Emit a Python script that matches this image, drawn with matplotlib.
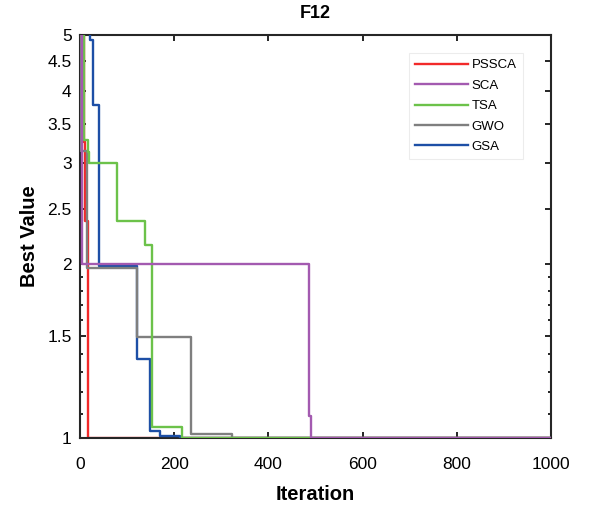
import numpy as np
import matplotlib.pyplot as plt
from matplotlib.ticker import FixedLocator, FixedFormatter, NullFormatter

plt.rcParams['font.family'] = ['Liberation Sans', 'DejaVu Sans']

# step curves: iteration where each new best value starts, and that value
pssca_it = [0, 8, 11, 16]
pssca_val = [6.0, 3.26, 2.38, 1.0]

sca_it = [0, 4, 487, 490]
sca_val = [6.0, 2.0, 1.09, 1.0]

tsa_it = [0, 9, 17, 20, 78, 138, 153, 217]
tsa_val = [6.0, 3.29, 3.13, 3.0, 2.38, 2.16, 1.045, 1.0]

gwo_it = [0, 3, 14, 121, 236, 323]
gwo_val = [6.0, 3.15, 1.97, 1.497, 1.016, 1.0]

gsa_it = [0, 22, 27, 40, 121, 149, 170, 212]
gsa_val = [6.0, 4.9, 3.78, 1.99, 1.37, 1.028, 1.008, 1.0]

max_iter = 1000
yticks = [1, 1.5, 2, 2.5, 3, 3.5, 4, 4.5, 5]
ytick_labels = ['1', '1.5', '2', '2.5', '3', '3.5', '4', '4.5', '5']
xticks = [0, 200, 400, 600, 800, 1000]

series = [
    ('PSSCA', pssca_it, pssca_val, '#f22a2a', 2),
    ('SCA', sca_it, sca_val, '#a35ab0', 6),
    ('TSA', tsa_it, tsa_val, '#6cc24a', 5),
    ('GWO', gwo_it, gwo_val, '#7f7f7f', 4),
    ('GSA', gsa_it, gsa_val, '#1d4fa6', 3),
]

fig = plt.figure(figsize=(5.9, 5.05), dpi=100)
ax = fig.add_axes([0.1356, 0.1327, 0.7983, 0.798])

for name, it, val, col, z in series:
    xs = list(it) + [max_iter]
    ys = list(val) + [val[-1]]
    ax.step(xs, ys, where='post', color=col, lw=1.7, label=name, zorder=z)

ax.set_yscale('log')
ax.set_xlim(0, max_iter)
ax.set_ylim(1, 5)
ax.yaxis.set_major_locator(FixedLocator(yticks))
ax.yaxis.set_major_formatter(FixedFormatter(ytick_labels))
minor = [1.1, 1.2, 1.3, 1.4, 1.6, 1.7, 1.8, 1.9]
ax.yaxis.set_minor_locator(FixedLocator(minor))
ax.yaxis.set_minor_formatter(NullFormatter())
ax.set_xticks(xticks)

ax.tick_params(which='both', direction='in', top=True, right=True, labelsize=12.5, width=1.2)
ax.tick_params(which='major', length=4)
ax.tick_params(which='minor', length=2.5)
ax.tick_params(axis='x', pad=14)
ax.tick_params(axis='y', pad=6)
for s in ax.spines.values():
    s.set_linewidth(1.5)
    s.set_color('#262626')

ax.set_title('F12', fontsize=13, fontweight='bold', pad=12)
ax.set_xlabel('Iteration', fontsize=14.5, fontweight='bold', labelpad=9)
ax.set_ylabel('Best Value', fontsize=14.5, fontweight='bold', labelpad=6)

leg = ax.legend(loc='upper right', bbox_to_anchor=(0.94, 0.955), fontsize=9.5,
                handlelength=4.0, frameon=True, fancybox=False,
                borderpad=0.45, labelspacing=0.62, handletextpad=0.3,
                borderaxespad=0)
leg.get_frame().set_edgecolor('#e8e8e8')
leg.get_frame().set_linewidth(0.8)

fig.savefig('out.png', dpi=100)
